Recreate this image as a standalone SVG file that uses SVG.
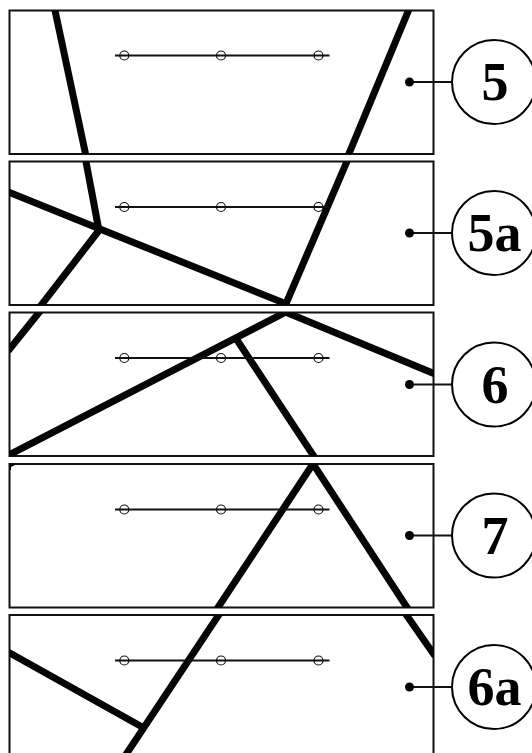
<svg xmlns="http://www.w3.org/2000/svg" width="532" height="753" viewBox="0 0 532 753">
<defs>
<style>
.frame{fill:#fff;stroke:#111;stroke-width:2}
.thick{fill:none;stroke:#050505;stroke-width:7;stroke-linecap:butt;stroke-linejoin:miter}
.axis{fill:none;stroke:#111;stroke-width:2}
.tick{fill:none;stroke:#111;stroke-width:1.2}
.lead{fill:none;stroke:#111;stroke-width:1.8}
.dot{fill:#000}
.bub{fill:#fff;stroke:#000;stroke-width:2}
.lab{font-family:"Liberation Serif","Times New Roman",serif;font-weight:700;font-size:54px;text-anchor:middle;fill:#000}
</style>
<clipPath id="c1"><rect x="9.5" y="10.5" width="424" height="143.5"/></clipPath>
<clipPath id="c2"><rect x="9.5" y="161.5" width="424" height="143.5"/></clipPath>
<clipPath id="c3"><rect x="9.5" y="312.5" width="424" height="143.5"/></clipPath>
<clipPath id="c4"><rect x="9.5" y="464" width="424" height="143.5"/></clipPath>
<clipPath id="c5"><rect x="9.5" y="615" width="424" height="150"/></clipPath>
<g id="scale">
<path class="axis" d="M115 0H329.5"/>
<circle class="tick" cx="124.3" cy="0" r="4.500"/>
<circle class="tick" cx="221" cy="0" r="4.500"/>
<circle class="tick" cx="318.500" cy="0" r="4.500"/>
</g>
</defs>
<g id="panel-5">
<rect class="frame" x="9.5" y="10.5" width="424" height="143.5"/>
<g clip-path="url(#c1)">
<path class="thick" d="M54.5 8L86 156"/>
<path class="thick" d="M409.500 8L348 156"/>
</g>
<use href="#scale" y="55.5"/>
</g>
<g id="panel-5a">
<rect class="frame" x="9.5" y="161.5" width="424" height="143.5"/>
<g clip-path="url(#c2)">
<path class="thick" d="M85.5 159L98.500 228"/>
<path class="thick" d="M7 191.5L100 229L289 305"/>
<path class="thick" d="M98.5 231L39 308"/>
<path class="thick" d="M348 159L285 306"/>
</g>
<use href="#scale" y="207"/>
</g>
<g id="panel-6">
<rect class="frame" x="9.5" y="312.5" width="424" height="143.5"/>
<g clip-path="url(#c3)">
<path class="thick" d="M41 310L8 351"/>
<path class="thick" d="M5 457L288 311"/>
<path class="thick" d="M237 340L315 458"/>
<path class="thick" d="M283 311L435 374"/>
</g>
<use href="#scale" y="358"/>
</g>
<g id="panel-7">
<rect class="frame" x="9.5" y="464" width="424" height="143.5"/>
<path d="M10 464H17L11 467V470H10Z" fill="#000"/>
<g clip-path="url(#c4)">
<path class="thick" d="M313.5 463L217 609"/>
<path class="thick" d="M312.5 463L408 609"/>
</g>
<use href="#scale" y="509.5"/>
</g>
<g id="panel-6a">
<path class="frame" d="M9.5 753V615H433.5V753"/>
<g clip-path="url(#c5)">
<path class="thick" d="M220 613L125 756"/>
<path class="thick" d="M8 652L144 728"/>
<path class="thick" d="M405 613L435 656"/>
</g>
<use href="#scale" y="660.5"/>
</g>
<g id="callout-5">
<path class="lead" d="M409 82H452"/><circle class="dot" cx="409.500" cy="82" r="4.500"/>
<circle class="bub" cx="494" cy="82" r="42"/><text class="lab" x="495" y="99.500">5</text>
</g>
<g id="callout-5a">
<path class="lead" d="M409 233H452"/><circle class="dot" cx="409.500" cy="233" r="4.500"/>
<circle class="bub" cx="494" cy="233" r="42"/><text class="lab" x="494.500" y="250.500">5a</text>
</g>
<g id="callout-6">
<path class="lead" d="M409 384.500H452"/><circle class="dot" cx="409.500" cy="384.500" r="4.500"/>
<circle class="bub" cx="494" cy="384.500" r="42"/><text class="lab" x="495" y="402.500">6</text>
</g>
<g id="callout-7">
<path class="lead" d="M409 535.500H452"/><circle class="dot" cx="409.500" cy="535.500" r="4.500"/>
<circle class="bub" cx="494" cy="535.500" r="42"/><text class="lab" x="495" y="553.500">7</text>
</g>
<g id="callout-6a">
<path class="lead" d="M409 687H452"/><circle class="dot" cx="409.500" cy="687" r="4.500"/>
<circle class="bub" cx="494" cy="687" r="42"/><text class="lab" x="494.500" y="705">6a</text>
</g>
</svg>
